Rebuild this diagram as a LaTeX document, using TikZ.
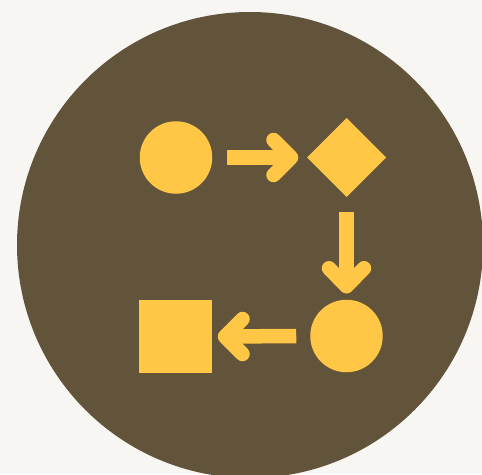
\documentclass[tikz,border=0pt]{standalone}
\usetikzlibrary{shapes.geometric,calc}
\definecolor{bgc}{HTML}{F8F6F3}
\definecolor{disc}{HTML}{62543A}
\definecolor{gold}{HTML}{FFC745}
\tikzset{
  shape fill/.style={fill=gold,draw=none,inner sep=0pt,outer sep=0pt},
  roundshape/.style={shape fill,circle,minimum size=72.5pt},
  diamondshape/.style={shape fill,diamond,minimum width=79pt,minimum height=79pt},
  squareshape/.style={shape fill,rectangle,minimum size=73pt},
  shaft/.style={draw=gold,line width=14.5pt,line cap=butt},
  head/.style={draw=gold,line width=14.5pt,line cap=round,line join=round}
}
\begin{document}
\begin{tikzpicture}[x=1pt,y=-1pt]
\useasboundingbox (0,0) rectangle (482,474);
\fill[bgc] (0,0) rectangle (482,474);
\begin{scope}
\clip (0,0) rectangle (482,474);
\fill[disc] (250,245) circle[radius=233pt];
\end{scope}
\node[roundshape] (c1) at (176,157.5) {};
\node[diamondshape] (d1) at (346.5,157.5) {};
\node[roundshape] (c2) at (346.5,336) {};
\node[squareshape] (sq) at (175.5,336.5) {};
% right arrow
\coordinate (s1) at ($(c1.east)+(15,0)$);
\coordinate (v1) at ($(d1.west)+(-16,0)$);
\draw[shaft] (s1) -- (v1);
\draw[head] ($(v1)+(-17.5,-17.5)$) -- (v1) -- ($(v1)+(-17.5,17.5)$);
% down arrow
\coordinate (s2) at ($(d1.south)+(0,15)$);
\coordinate (v2) at ($(c2.north)+(0,-13.5)$);
\draw[shaft] (s2) -- (v2);
\draw[head] ($(v2)+(-17.5,-18)$) -- (v2) -- ($(v2)+(17.5,-18)$);
% left arrow
\coordinate (s3) at ($(c2.west)+(-14,0)$);
\coordinate (v3) at ($(sq.east)+(13,0)$);
\draw[shaft] (s3) -- (v3);
\draw[head] ($(v3)+(17.5,-17.5)$) -- (v3) -- ($(v3)+(17.5,17.5)$);
\end{tikzpicture}
\end{document}
